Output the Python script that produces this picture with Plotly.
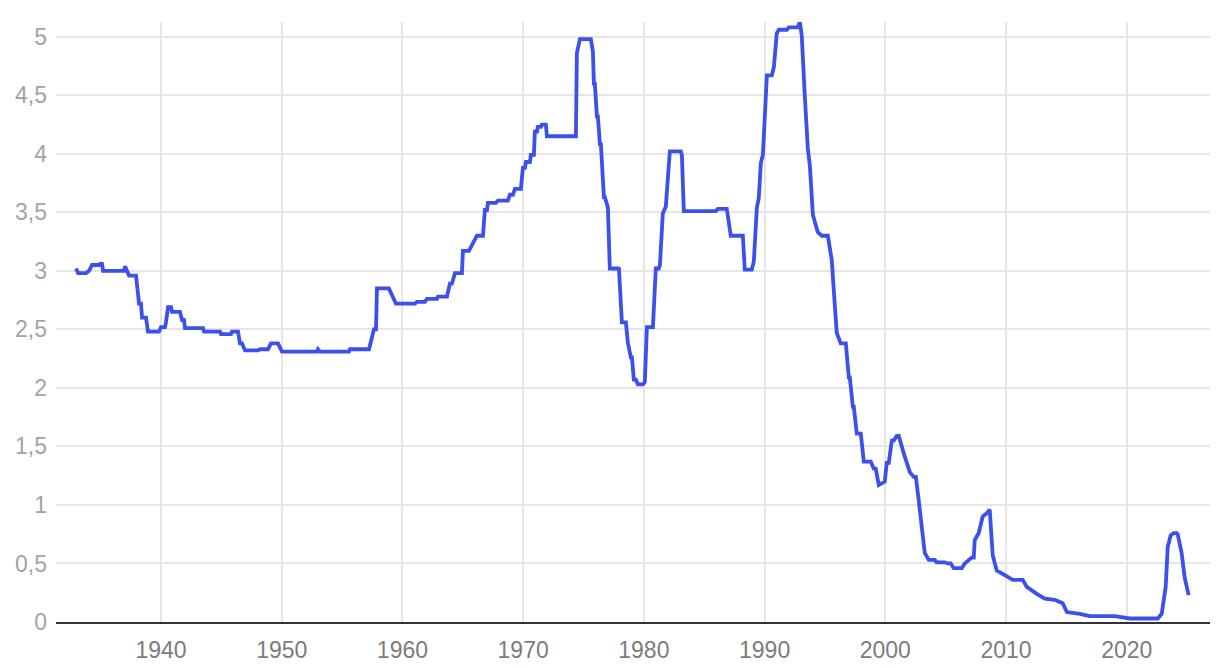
import plotly.graph_objects as go

years = [
    1932.96, 1933.13, 1933.79, 1934.04, 1934.29, 1934.87, 1934.95, 1935.11, 1935.20, 1936.94,
    1937.02, 1937.18, 1937.35, 1937.93, 1938.01, 1938.18, 1938.34, 1938.43, 1938.76, 1938.92,
    1939.83, 1940.00, 1940.33, 1940.41, 1940.58, 1940.83, 1940.91, 1941.57, 1941.74, 1941.90,
    1941.99, 1943.48, 1943.56, 1944.89, 1944.97, 1945.80, 1945.88, 1946.38, 1946.54, 1946.71,
    1946.96, 1948.03, 1948.20, 1948.86, 1949.11, 1949.69, 1950.02, 1952.92, 1953.00, 1953.17,
    1955.57, 1955.65, 1957.23, 1957.47, 1957.64, 1957.81, 1957.89, 1958.88, 1959.21, 1959.46,
    1961.04, 1961.20, 1961.86, 1962.03, 1962.86, 1962.94, 1963.69, 1963.93, 1964.10, 1964.35,
    1964.93, 1965.01, 1965.51, 1965.67, 1965.92, 1966.17, 1966.67, 1966.83, 1967.00, 1967.08,
    1967.74, 1967.91, 1968.74, 1968.90, 1969.15, 1969.32, 1969.81, 1969.98, 1970.15, 1970.23,
    1970.56, 1970.64, 1970.89, 1970.97, 1971.14, 1971.22, 1971.47, 1971.55, 1971.88, 1971.97,
    1974.37, 1974.45, 1974.70, 1975.61, 1975.78, 1975.86, 1975.94, 1976.11, 1976.19, 1976.36,
    1976.44, 1976.69, 1976.77, 1976.94, 1977.02,
    1977.18, 1977.85, 1977.93, 1978.18, 1978.51, 1978.67, 1978.92, 1979.01, 1979.17, 1979.34,
    1979.50, 1979.92, 1980.08, 1980.25, 1980.75, 1980.99, 1981.24, 1981.33, 1981.57, 1981.82,
    1982.15, 1983.06, 1983.15, 1983.31, 1985.96, 1986.13, 1986.87, 1987.04, 1987.20, 1988.20,
    1988.36, 1988.94, 1989.11, 1989.36, 1989.52, 1989.69, 1989.86, 1990.19, 1990.60, 1990.77,
    1991.01, 1991.18, 1991.84, 1992.01, 1992.75, 1992.92, 1993.08, 1993.33, 1993.58, 1993.75,
    1994.00, 1994.41, 1994.74, 1995.24, 1995.57, 1995.73, 1995.98, 1996.31, 1996.73, 1996.98,
    1997.06, 1997.31, 1997.39, 1997.64, 1997.97, 1998.22, 1998.80, 1999.05, 1999.21, 1999.46,
    1999.96, 2000.12, 2000.29, 2000.54, 2000.70, 2000.95, 2001.12, 2001.53, 2001.78, 2002.03,
    2002.36, 2002.53, 2002.77,
    2003.02, 2003.27, 2003.60, 2004.10, 2004.26, 2004.93, 2005.18, 2005.42, 2005.67, 2006.34,
    2006.58, 2007.16, 2007.33, 2007.41, 2007.74, 2008.07, 2008.41, 2008.65, 2008.90, 2009.23,
    2009.90, 2010.56, 2011.39, 2011.72, 2012.55, 2013.21, 2014.04, 2014.70, 2015.04, 2016.11,
    2016.94, 2019.01, 2020.25, 2022.57, 2022.90, 2023.23, 2023.40, 2023.64, 2023.89, 2024.14,
    2024.22, 2024.55, 2024.80, 2025.05, 2025.13,
]

rates = [
    3.02, 2.98, 2.98, 3.00, 3.05, 3.05, 3.06, 3.06, 3.00, 3.00,
    3.04, 3.00, 2.96, 2.96, 2.87, 2.72, 2.72, 2.60, 2.60, 2.48,
    2.48, 2.52, 2.52, 2.56, 2.69, 2.69, 2.65, 2.65, 2.58, 2.58,
    2.51, 2.51, 2.48, 2.48, 2.46, 2.46, 2.48, 2.48, 2.38, 2.38,
    2.32, 2.32, 2.33, 2.33, 2.38, 2.38, 2.31, 2.31, 2.33, 2.31,
    2.31, 2.33, 2.33, 2.42, 2.50, 2.50, 2.85, 2.85, 2.77, 2.72,
    2.72, 2.735, 2.735, 2.76, 2.76, 2.78, 2.78, 2.89, 2.89, 2.98,
    2.98, 3.17, 3.17, 3.20, 3.25, 3.30, 3.30, 3.52, 3.52, 3.58,
    3.58, 3.60, 3.60, 3.65, 3.65, 3.70, 3.70, 3.88, 3.88, 3.93,
    3.93, 3.99, 3.99, 4.19, 4.19, 4.23, 4.23, 4.25, 4.25, 4.15,
    4.15, 4.86, 4.98, 4.98, 4.87, 4.60, 4.60, 4.32, 4.32, 4.08,
    4.08, 3.63, 3.63, 3.54, 3.54,
    3.02, 3.02, 3.03, 2.56, 2.56, 2.39, 2.26, 2.26, 2.07, 2.07,
    2.03, 2.03, 2.05, 2.52, 2.52, 3.02, 3.02, 3.05, 3.49, 3.55,
    4.02, 4.02, 3.99, 3.51, 3.51, 3.53, 3.53, 3.39, 3.30, 3.30,
    3.01, 3.01, 3.08, 3.54, 3.62, 3.92, 3.99, 4.67, 4.67, 4.74,
    5.03, 5.06, 5.06, 5.08, 5.08, 5.13, 5.01, 4.50, 4.05, 3.90,
    3.48, 3.33, 3.30, 3.30, 3.09, 2.84, 2.47, 2.38, 2.38, 2.09,
    2.09, 1.84, 1.84, 1.61, 1.61, 1.37, 1.37, 1.31, 1.31, 1.17,
    1.20, 1.36, 1.36, 1.55, 1.55, 1.59, 1.59, 1.44, 1.36, 1.28,
    1.24, 1.24, 1.04,
    0.81, 0.59, 0.53, 0.53, 0.51, 0.51, 0.50, 0.50, 0.46, 0.46,
    0.50, 0.55, 0.55, 0.70, 0.76, 0.90, 0.93, 0.96, 0.57, 0.44,
    0.40, 0.36, 0.36, 0.30, 0.24, 0.20, 0.19, 0.16, 0.085, 0.07,
    0.05, 0.05, 0.03, 0.03, 0.07, 0.30, 0.64, 0.74, 0.76, 0.76,
    0.75, 0.59, 0.38, 0.24, 0.23,
]

x_ticks = [1940, 1950, 1960, 1970, 1980, 1990, 2000, 2010, 2020]
y_ticks = [0, 0.5, 1, 1.5, 2, 2.5, 3, 3.5, 4, 4.5, 5]
y_labels = ["0", "0,5", "1", "1,5", "2", "2,5", "3", "3,5", "4", "4,5", "5"]

fig = go.Figure()
fig.add_trace(go.Scatter(
    x=years, y=rates, mode="lines",
    line=dict(color="#3b50ec", width=3.8),
    hoverinfo="skip", showlegend=False,
))

fig.update_layout(
    width=1212, height=660,
    margin=dict(l=48, r=10, t=14, b=46, autoexpand=False),
    paper_bgcolor="white", plot_bgcolor="white",
    font=dict(family="Liberation Sans, Arial, sans-serif"),
    xaxis=dict(
        range=[1931.3, 2026.9], automargin=False,
        tickvals=x_ticks, ticktext=[str(v) for v in x_ticks],
        showgrid=True, gridcolor="#e6e6e6", gridwidth=2,
        zeroline=False, showline=True, linecolor="#333333", linewidth=2,
        ticks="", tickfont=dict(size=23, color="#7c7c7c"),
        ticklabelstandoff=6,
    ),
    yaxis=dict(
        range=[0, 5.126], automargin=False,
        tickvals=y_ticks, ticktext=y_labels,
        showgrid=True, gridcolor="#e6e6e6", gridwidth=2,
        zeroline=False, showline=False,
        ticks="", tickfont=dict(size=23, color="#a3a3a3"),
        ticklabelstandoff=8,
    ),
)

fig.write_html("out.html", config={"displayModeBar": False})
